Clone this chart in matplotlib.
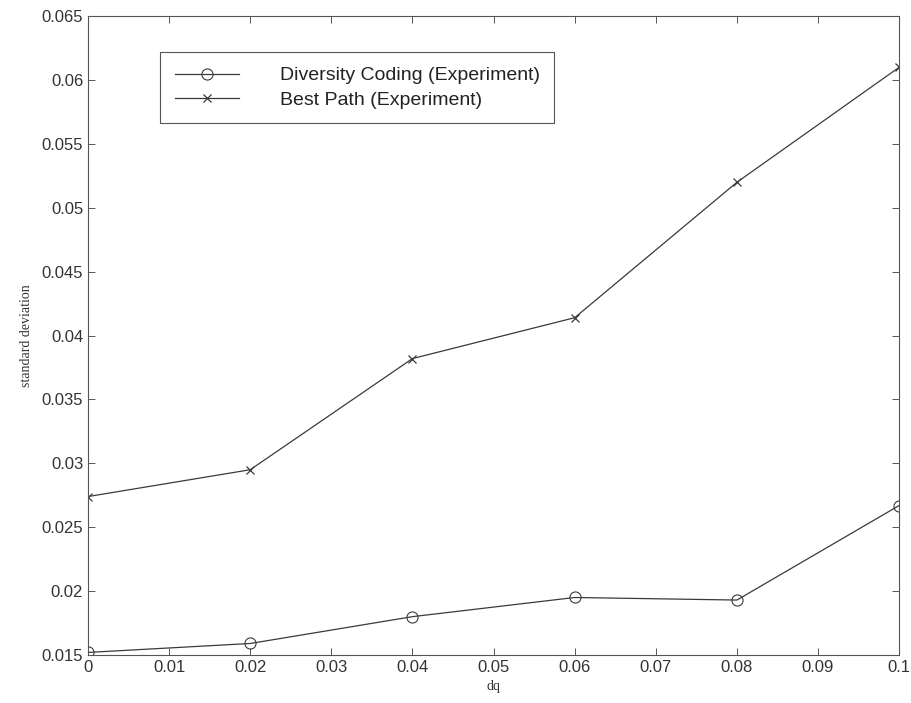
import numpy as np
import matplotlib.pyplot as plt

# dq values and measured standard deviations
dq = [0.0, 0.02, 0.04, 0.06, 0.08, 0.1]
diversity_coding = [0.0152, 0.0159, 0.0180, 0.0195, 0.0193, 0.0267]
best_path = [0.0274, 0.0295, 0.0382, 0.0414, 0.0520, 0.0610]

x_ticks = np.arange(0, 0.1001, 0.01)
y_ticks = np.arange(0.015, 0.0651, 0.005)

plt.rcParams['font.family'] = ['Liberation Sans', 'DejaVu Sans']

fig = plt.figure(figsize=(9.11, 7.03), dpi=100)
ax = fig.add_axes([0.0966, 0.0683, 0.8904, 0.9087])

line_color = '#3a3a3a'
ax.plot(dq, diversity_coding, color=line_color, lw=0.9, marker='o',
        markersize=8, markerfacecolor='none', markeredgewidth=0.8,
        label='Diversity Coding (Experiment)')
ax.plot(dq, best_path, color=line_color, lw=0.9, marker='x',
        markersize=6, markeredgewidth=0.9,
        label='Best Path (Experiment)')

ax.set_xlim(0, 0.1)
ax.set_ylim(0.015, 0.065)
ax.set_xticks(x_ticks)
ax.set_xticklabels(['0', '0.01', '0.02', '0.03', '0.04', '0.05', '0.06',
                    '0.07', '0.08', '0.09', '0.1'])
ax.set_yticks(y_ticks)
ax.set_yticklabels(['0.015', '0.02', '0.025', '0.03', '0.035', '0.04',
                    '0.045', '0.05', '0.055', '0.06', '0.065'])
ax.tick_params(direction='in', length=5, width=0.7, colors='#555555',
               labelcolor='#333333', labelsize=12, top=True, right=True)
for s in ax.spines.values():
    s.set_color('#555555')
    s.set_linewidth(0.8)

ax.set_xlabel('dq', family='Liberation Serif', fontsize=10, color='#333333', labelpad=4)
ax.set_ylabel('standard deviation', family='Liberation Serif', fontsize=10,
              color='#333333', labelpad=6)

leg = ax.legend(loc='upper left', bbox_to_anchor=(0.0887, 0.9437), fontsize=14,
                handlelength=3.3, handletextpad=2.1, labelspacing=0.35,
                borderpad=0.75, fancybox=False, framealpha=1,
                edgecolor='#555555', borderaxespad=0)
leg.get_frame().set_linewidth(0.8)
for t in leg.get_texts():
    t.set_color('#222222')

fig.savefig('out.png', dpi=100)
